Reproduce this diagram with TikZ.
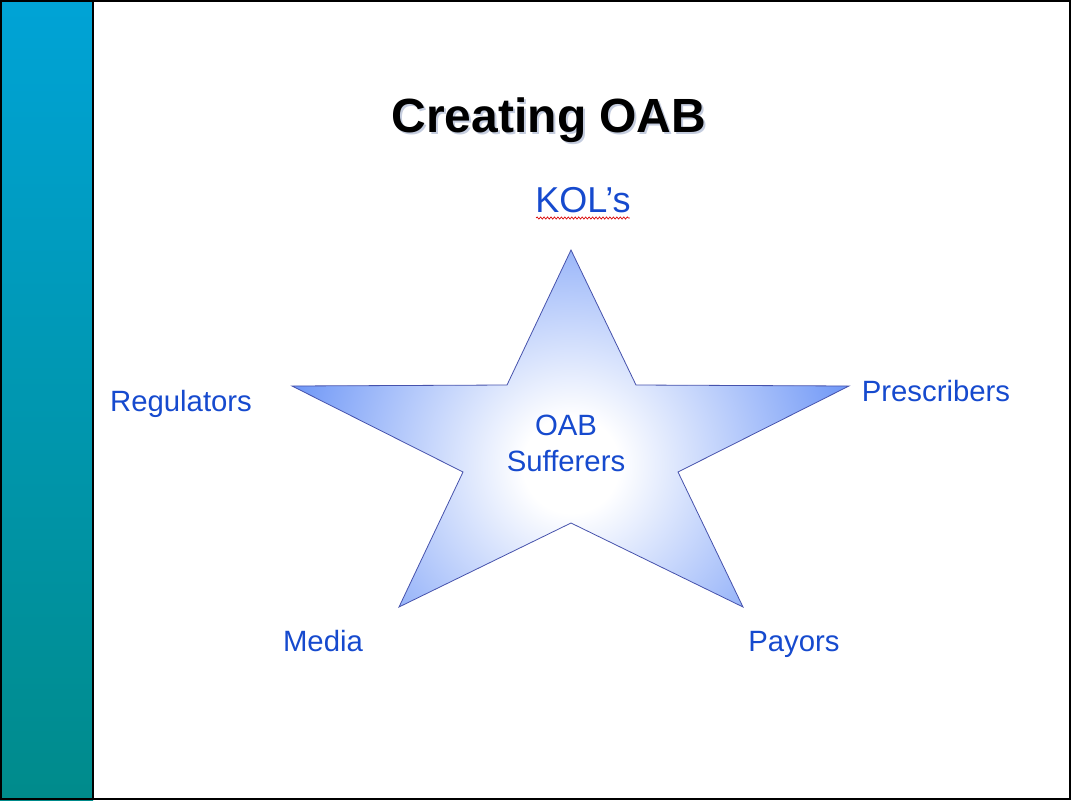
\documentclass[tikz,border=0pt]{standalone}
\usepackage{fontspec}
\setmainfont{Liberation Sans}
\usepackage{xcolor}
\usepackage{tikz}
\usetikzlibrary{calc}
\usetikzlibrary{decorations.pathmorphing}
\definecolor{barTop}{RGB}{0,163,214}
\definecolor{barBottom}{RGB}{0,139,139}
\definecolor{labelBlue}{RGB}{22,74,206}
\definecolor{starBlue}{RGB}{104,146,246}
\definecolor{starLine}{RGB}{70,82,172}
\definecolor{titleShadow}{RGB}{196,204,222}
\pgfdeclareradialshading{starglow}{\pgfpoint{0bp}{0bp}}{%
  color(0bp)=(white); color(4bp)=(white); color(25bp)=(starBlue); color(50bp)=(starBlue)}
\tikzstyle{label} = [text=labelBlue, inner sep=0pt, font=\fontsize{22}{27}\selectfont]
\tikzstyle{title} = [inner sep=0pt, font=\bfseries\fontsize{36}{43}\selectfont]
\tikzstyle{spellmark} = [draw=red!85!black, line width=0.5pt,
  decorate, decoration={snake, amplitude=0.8pt, segment length=2.6pt}]

\begin{document}
\begin{tikzpicture}[x=0.75pt, y=-0.75pt]
        \useasboundingbox (0,0) rectangle (1071,800);
        % side bar and frame
        \shade[top color=barTop, bottom color=barBottom] (0,0) rectangle (93,800);
        \draw[line width=1.5pt] (93,0) -- (93,800);
        \draw[line width=1.5pt] (1,1) rectangle (1070,799);
        % star
        \begin{scope}
            \clip (571,250) -- (636,385) -- (849,386) -- (678,472) -- (743,607)
                -- (571,523) -- (399,607) -- (463,472) -- (292,386) -- (507,385) -- cycle;
            \shade[shading=starglow] (571,465) circle (300);
        \end{scope}
        \draw[starLine, line width=0.6pt, line join=miter]
            (571,250) -- (636,385) -- (849,386) -- (678,472) -- (743,607)
            -- (571,523) -- (399,607) -- (463,472) -- (292,386) -- (507,385) -- cycle;
        % title
        \node[title, text=titleShadow, anchor=base] at (551,134) {Creating OAB};
        \node[title, anchor=base] (heading) at (549,132) {Creating OAB};
        % labels
        \node[label, anchor=base, font=\fontsize{27}{32}\selectfont] (kols) at (583,212) {KOL’s};
        \draw[spellmark] ($(kols.base west)+(1,6)$) -- ($(kols.base east)+(-1,6)$);
        \node[label, anchor=base] (regulators) at (181,411) {Regulators};
        \node[label, anchor=base] (prescribers) at (936,401) {Prescribers};
        \node[label, anchor=base] (media) at (323,651) {Media};
        \node[label, anchor=base] (payors) at (794,651) {Payors};
        \node[label, align=center] (sufferers) at (566,443) {OAB\\Sufferers};
\end{tikzpicture}
\end{document}
